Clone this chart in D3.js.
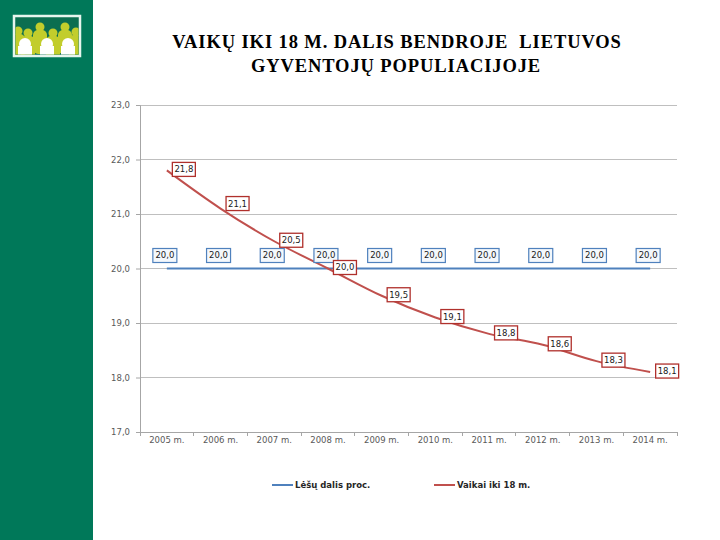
<!DOCTYPE html>
<html><head><meta charset="utf-8">
<script src="https://cdn.jsdelivr.net/npm/d3@7"></script>
<style>body{margin:0;background:#fff;}svg{display:block;}</style>
</head><body>
<svg id="c" width="720" height="540"></svg>
<script>
const years = ["2005 m.","2006 m.","2007 m.","2008 m.","2009 m.","2010 m.","2011 m.","2012 m.","2013 m.","2014 m."];
const lesuDalis = [20.0,20.0,20.0,20.0,20.0,20.0,20.0,20.0,20.0,20.0];
const vaikai = [21.8,21.1,20.5,20.0,19.5,19.1,18.8,18.6,18.3,18.1];
const yTicks = [17,18,19,20,21,22,23];
const seriesNames = ["Lėšų dalis proc.","Vaikai iki 18 m."];
const fmt = v => v.toFixed(1).replace(".", ",");

const svg = d3.select("#c");
// sidebar
svg.append("rect").attr("x",0).attr("y",0).attr("width",93).attr("height",540).attr("fill","#007859");
// logo
const lg = svg.append("g");
lg.append("rect").attr("x",14).attr("y",16).attr("width",66).attr("height",40).attr("fill","#0b6e50").attr("stroke","#e6f5ee").attr("stroke-width",2.5);
const yg="#c2cd2c";
lg.append("clipPath").attr("id","lc").append("rect").attr("x",15.5).attr("y",17.5).attr("width",63).attr("height",37);
const inner = lg.append("g").attr("clip-path","url(#lc)");
[[18,31],[40,27],[65,27],[28,33],[53,33],[76,32]].forEach(([cx,cy])=>{
  inner.append("circle").attr("cx",cx).attr("cy",cy).attr("r",4.5).attr("fill",yg);
  inner.append("rect").attr("x",cx-7).attr("y",cy+3).attr("width",14).attr("height",24).attr("rx",5).attr("fill",yg);
});
[[25,44],[47,44],[68,44]].forEach(([cx,cy])=>{
  inner.append("circle").attr("cx",cx).attr("cy",cy).attr("r",6).attr("fill","#fff");
  inner.append("rect").attr("x",cx-7).attr("y",cy+2).attr("width",14).attr("height",10).attr("fill","#fff");
});

// title
const tfont = "Liberation Serif, Times New Roman, serif";
svg.append("text").attr("x",397).attr("y",48).attr("text-anchor","middle")
  .attr("font-family",tfont).attr("font-size",18.5).attr("font-weight","bold").attr("fill","#000")
  .attr("letter-spacing","0.9px").style("white-space","pre")
  .text("VAIKŲ IKI 18 M. DALIS BENDROJE  LIETUVOS");
svg.append("text").attr("x",396).attr("y",72).attr("text-anchor","middle")
  .attr("font-family",tfont).attr("font-size",18.5).attr("font-weight","bold").attr("fill","#000")
  .attr("letter-spacing","0.9px")
  .text("GYVENTOJŲ POPULIACIJOJE");

const L=140,R=677,T=105,B=432;
const x = d3.scaleBand().domain(years).range([L,R]);
const y = d3.scaleLinear().domain([17,23]).range([B,T]);
const cx = d => x(d)+x.bandwidth()/2;
const font="DejaVu Sans, sans-serif";

// gridlines
svg.append("g").selectAll("line").data(yTicks).join("line")
  .attr("x1",L).attr("x2",R).attr("y1",d=>y(d)).attr("y2",d=>y(d))
  .attr("stroke",d=>d===17?"#a6a6a6":"#bfbfbf").attr("stroke-width",1).attr("shape-rendering","crispEdges");
// y axis
const ya = svg.append("g").attr("transform",`translate(${L},0)`)
  .call(d3.axisLeft(y).tickValues(yTicks).tickFormat(fmt).tickSize(4));
ya.select(".domain").attr("stroke","#a6a6a6");
ya.selectAll(".tick line").attr("stroke","#a6a6a6");
ya.selectAll("text").attr("font-family",font).attr("font-size",8.5).attr("fill","#595959").attr("dx",-3);
// x axis
const xa = svg.append("g").attr("transform",`translate(0,${B})`)
  .call(d3.axisBottom(x).tickSize(0));
xa.select(".domain").remove();
xa.selectAll("text").attr("font-family",font).attr("font-size",8.5).attr("fill","#595959").attr("dy","0.9em");
svg.append("g").selectAll("line").data(years.concat(["end"])).join("line")
  .attr("x1",(d,i)=>L+i*x.bandwidth()).attr("x2",(d,i)=>L+i*x.bandwidth())
  .attr("y1",B).attr("y2",B+4).attr("stroke","#a6a6a6").attr("shape-rendering","crispEdges");

// blue line
const lineB = d3.line().x((d,i)=>cx(years[i])).y(d=>y(d));
svg.append("path").datum(lesuDalis).attr("d",lineB).attr("fill","none").attr("stroke","#4f81bd").attr("stroke-width",2);
// red line
const lineR = d3.line().x((d,i)=>cx(years[i])).y(d=>y(d)).curve(d3.curveMonotoneX);
svg.append("path").datum(vaikai).attr("d",lineR).attr("fill","none").attr("stroke","#c0504d").attr("stroke-width",2);

// blue labels
const bl = svg.append("g").selectAll("g").data(lesuDalis).join("g")
  .attr("transform",(d,i)=>`translate(${cx(years[i])-2},${y(d)-13})`);
bl.append("rect").attr("x",-12).attr("y",-7).attr("width",24).attr("height",14)
  .attr("fill","#f4f8fc").attr("stroke","#4f81bd").attr("stroke-width",1.2);
bl.append("text").attr("text-anchor","middle").attr("dy","0.35em").attr("font-family",font)
  .attr("font-size",8.5).attr("fill","#1a1a1a").text(fmt);

// red labels
const rl = svg.append("g").selectAll("g").data(vaikai).join("g")
  .attr("transform",(d,i)=>`translate(${cx(years[i])+17},${y(d)-(i===1?5:1)})`);
rl.append("rect").attr("x",-11.5).attr("y",-7).attr("width",23).attr("height",14)
  .attr("fill","#fff").attr("stroke","#b0302c").attr("stroke-width",1.3);
rl.append("text").attr("text-anchor","middle").attr("dy","0.35em").attr("font-family",font)
  .attr("font-size",8.5).attr("fill","#1a1a1a").text(fmt);

// legend
const leg = [{n:seriesNames[0],c:"#4f81bd",x:272},{n:seriesNames[1],c:"#c0504d",x:434}];
const lgd = svg.append("g").selectAll("g").data(leg).join("g").attr("transform",d=>`translate(${d.x},485)`);
lgd.append("line").attr("x1",0).attr("x2",21).attr("stroke",d=>d.c).attr("stroke-width",2);
lgd.append("text").attr("x",23).attr("dy","0.35em").attr("font-family",font).attr("font-size",8.5)
  .attr("font-weight","bold").attr("fill","#262626").text(d=>d.n);
</script>
</body></html>
